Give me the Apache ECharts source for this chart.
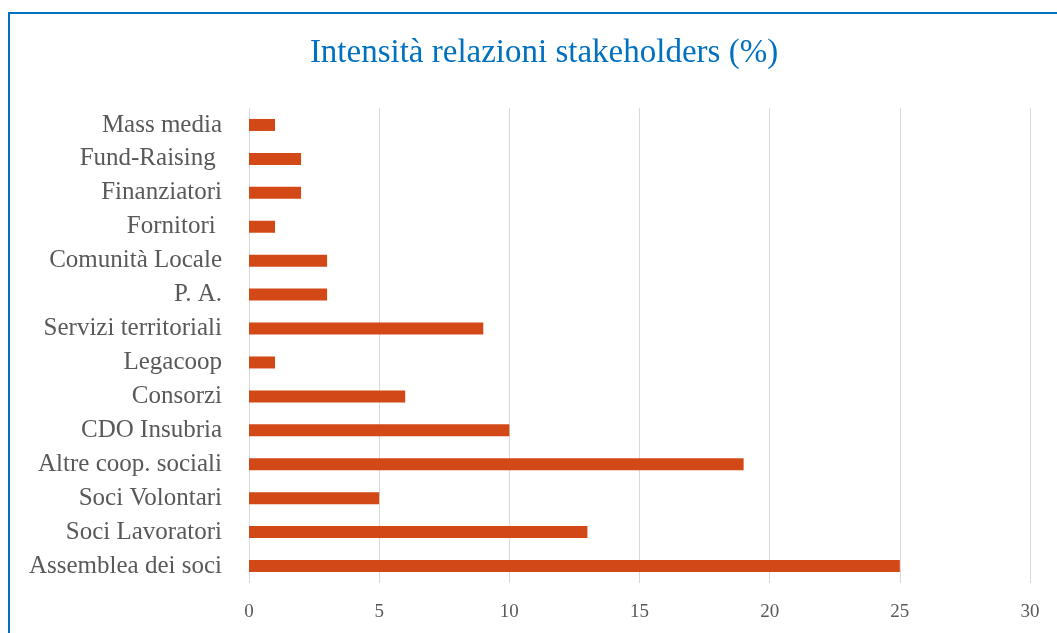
<!DOCTYPE html>
<html>
<head>
<meta charset="utf-8">
<script src="https://cdn.jsdelivr.net/npm/echarts@6/dist/echarts.min.js"></script>
<style>
html,body{margin:0;padding:0;background:#fff;}
#chart{width:1057px;height:633px;}
</style>
</head>
<body>
<div id="chart"></div>
<script>
const categories = ["Mass media","Fund-Raising ","Finanziatori","Fornitori ","Comunità Locale","P. A.","Servizi territoriali","Legacoop","Consorzi","CDO Insubria","Altre coop. sociali","Soci Volontari","Soci Lavoratori","Assemblea dei soci"];
const values = [1,2,2,1,3,3,9,1,6,10,19,5,13,25];
const titleText = "Intensità relazioni stakeholders (%)";
const xMin = 0, xMax = 30, xStep = 5;

const font = "'Liberation Serif', 'DejaVu Serif', serif";
const chart = echarts.init(document.getElementById('chart'));
chart.setOption({
  animation: false,
  backgroundColor: '#fff',
  title: {
    text: titleText,
    left: 539, top: 32,
    textAlign: 'center',
    textStyle: {fontFamily: font, fontSize: 33, fontWeight: 'normal', color: '#0070C0'}
  },
  graphic: [{
    type: 'rect', silent: true,
    shape: {x: 9, y: 13, width: 1200, height: 800},
    style: {fill: 'none', stroke: '#0070C0', lineWidth: 2}
  }],
  grid: {left: 249, right: 27, top: 108, bottom: 50, containLabel: false},
  xAxis: {
    type: 'value', min: xMin, max: xMax, interval: xStep,
    axisLine: {show: false}, axisTick: {show: false},
    splitLine: {show: true, lineStyle: {color: '#D9D9D9', width: 1}},
    axisLabel: {fontFamily: font, fontSize: 19, color: '#595959', margin: 20}
  },
  yAxis: {
    type: 'category', data: categories, inverse: true,
    axisLine: {show: false}, axisTick: {show: false},
    axisLabel: {fontFamily: font, fontSize: 25, color: '#595959', margin: 27}
  },
  series: [{
    type: 'bar', data: values, barWidth: 12,
    itemStyle: {color: '#D34817'}
  }]
});
</script>
</body>
</html>
